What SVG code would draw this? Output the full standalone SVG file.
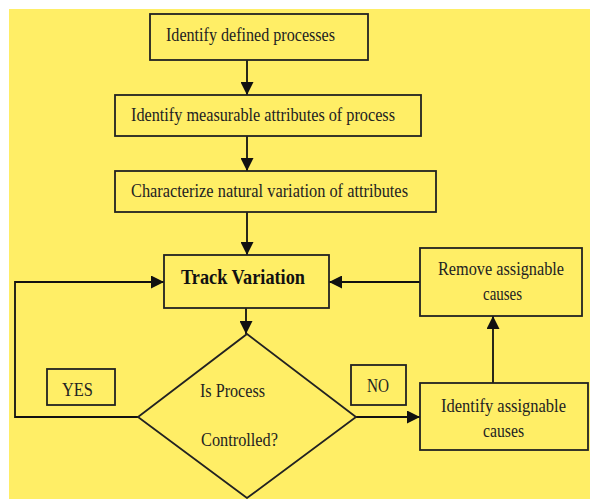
<svg xmlns="http://www.w3.org/2000/svg" width="590" height="499" viewBox="0 0 590 499">
<style>
.box{fill:none;stroke:#222;stroke-width:1.8}
.ln{fill:none;stroke:#111;stroke-width:1.8}
text{font-family:"Liberation Serif","Times New Roman",serif;font-size:18.5px;fill:#222}
.b{font-weight:bold;font-size:21px;fill:#111}
</style>
<defs>
<marker id="ah" markerUnits="userSpaceOnUse" markerWidth="13" markerHeight="13" viewBox="0 0 13 13" refX="13" refY="6.5" orient="auto">
<path d="M0,0 L13,6.5 L0,13 Z" fill="#111"/>
</marker>
</defs>
<rect x="9" y="9" width="581" height="490" fill="#FFEE66"/>
<g id="connectors">
<line class="ln" x1="247" y1="60" x2="247" y2="95" marker-end="url(#ah)"/>
<line class="ln" x1="247" y1="136" x2="247" y2="171" marker-end="url(#ah)"/>
<line class="ln" x1="247" y1="212" x2="247" y2="255" marker-end="url(#ah)"/>
<line class="ln" x1="246" y1="308" x2="246" y2="334" marker-end="url(#ah)"/>
<line class="ln" x1="420" y1="282" x2="329" y2="282" marker-end="url(#ah)"/>
<polyline class="ln" points="138,417 15,417 15,282 164,282" marker-end="url(#ah)"/>
<line class="ln" x1="356" y1="417" x2="420" y2="417" marker-end="url(#ah)"/>
<line class="ln" x1="493" y1="383" x2="493" y2="316" marker-end="url(#ah)"/>
</g>
<g id="n1">
<rect class="box" x="150" y="14" width="218" height="46"/>
<text x="166" y="41" textLength="169" lengthAdjust="spacingAndGlyphs">Identify defined processes</text>
</g>
<g id="n2">
<rect class="box" x="115" y="95" width="306" height="41"/>
<text x="131" y="121" textLength="264" lengthAdjust="spacingAndGlyphs">Identify measurable attributes of process</text>
</g>
<g id="n3">
<rect class="box" x="115" y="171" width="321" height="41"/>
<text x="131" y="197" textLength="277" lengthAdjust="spacingAndGlyphs">Characterize natural variation of attributes</text>
</g>
<g id="track">
<rect class="box" x="164" y="255" width="165" height="53"/>
<text class="b" x="181" y="284" textLength="124" lengthAdjust="spacingAndGlyphs">Track Variation</text>
</g>
<g id="remove">
<rect class="box" x="420" y="248" width="162" height="68"/>
<text x="438" y="275" textLength="126" lengthAdjust="spacingAndGlyphs">Remove assignable</text>
<text x="483" y="300" textLength="39" lengthAdjust="spacingAndGlyphs">causes</text>
</g>
<g id="decision">
<polygon class="box" points="247,334 356,417 247,498 138,417"/>
<text x="200" y="397" textLength="65" lengthAdjust="spacingAndGlyphs">Is Process</text>
<text x="201" y="446" textLength="77" lengthAdjust="spacingAndGlyphs">Controlled?</text>
</g>
<g id="yes">
<rect class="box" x="47" y="369" width="68" height="36"/>
<text x="62" y="396" textLength="31" lengthAdjust="spacingAndGlyphs">YES</text>
</g>
<g id="no">
<rect class="box" x="351" y="365" width="55" height="40"/>
<text x="367" y="392" textLength="22" lengthAdjust="spacingAndGlyphs">NO</text>
</g>
<g id="identify">
<rect class="box" x="420" y="383" width="168" height="67"/>
<text x="441" y="412" textLength="125" lengthAdjust="spacingAndGlyphs">Identify assignable</text>
<text x="483" y="437" textLength="41" lengthAdjust="spacingAndGlyphs">causes</text>
</g>
</svg>
